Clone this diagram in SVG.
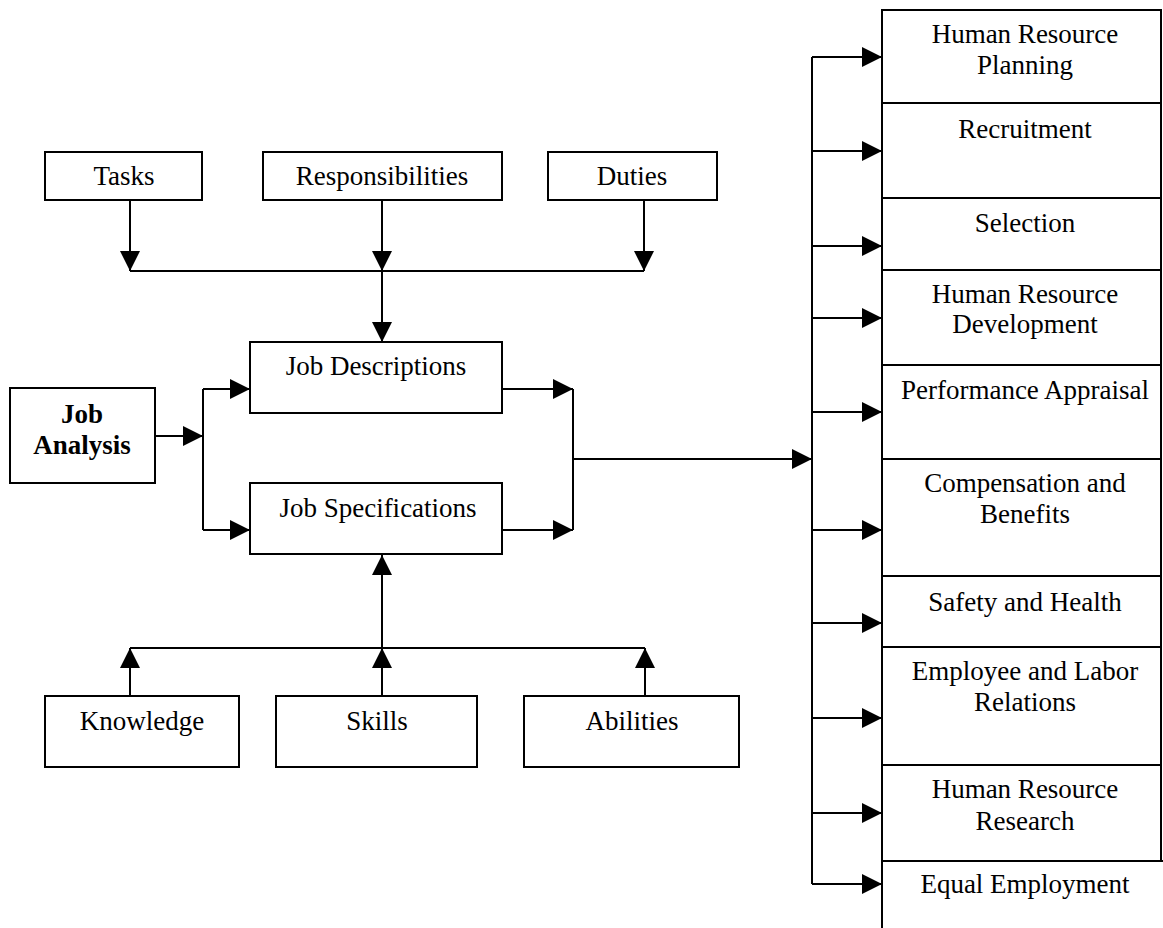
<svg xmlns="http://www.w3.org/2000/svg" width="1163" height="928" viewBox="0 0 1163 928">
<style>
.box{fill:#fff;stroke:#000;stroke-width:2}
.t{font-family:"Liberation Serif","Times New Roman",serif;font-size:27px;fill:#000;text-anchor:middle}
.b{font-weight:bold}
.c{fill:none;stroke:#000;stroke-width:2}
.a{fill:none;stroke:#000;stroke-width:2;marker-end:url(#ah)}
</style>
<defs>
<marker id="ah" markerUnits="userSpaceOnUse" markerWidth="20" markerHeight="20" refX="20" refY="10" orient="auto">
<path d="M0,0 L20,10 L0,20 z" fill="#000"/>
</marker>
</defs>
<rect width="1163" height="928" fill="#fff"/>

<g id="connectors">
<path class="a" d="M130,200 V271"/>
<path class="a" d="M382,200 V271"/>
<path class="a" d="M644,200 V271"/>
<path class="c" d="M130,271 H644"/>
<path class="a" d="M382,271 V342"/>
<path class="a" d="M155,436 H203"/>
<path class="c" d="M203,389 V530"/>
<path class="a" d="M203,389 H250"/>
<path class="a" d="M203,530 H250"/>
<path class="a" d="M502,389 H573"/>
<path class="a" d="M502,530 H573"/>
<path class="c" d="M573,389 V530"/>
<path class="a" d="M573,459 H812"/>
<path class="c" d="M812,57 V884"/>
<path class="a" d="M812,57 H882"/>
<path class="a" d="M812,151 H882"/>
<path class="a" d="M812,246 H882"/>
<path class="a" d="M812,318 H882"/>
<path class="a" d="M812,412 H882"/>
<path class="a" d="M812,530 H882"/>
<path class="a" d="M812,623 H882"/>
<path class="a" d="M812,718 H882"/>
<path class="a" d="M812,813 H882"/>
<path class="a" d="M812,884 H882"/>
<path class="a" d="M130,696 V648"/>
<path class="a" d="M382,696 V648"/>
<path class="a" d="M645,696 V648"/>
<path class="c" d="M130,648 H645"/>
<path class="a" d="M382,648 V555"/>
</g>

<g id="tasks"><rect class="box" x="45" y="152" width="157" height="48"/><text class="t" x="124" y="185">Tasks</text></g>
<g id="responsibilities"><rect class="box" x="263" y="152" width="239" height="48"/><text class="t" x="382" y="185">Responsibilities</text></g>
<g id="duties"><rect class="box" x="548" y="152" width="169" height="48"/><text class="t" x="632" y="185">Duties</text></g>
<g id="job-analysis"><rect class="box" x="10" y="388" width="145" height="95"/><text class="t b" x="82" y="423">Job</text><text class="t b" x="82" y="454">Analysis</text></g>
<g id="job-descriptions"><rect class="box" x="250" y="342" width="252" height="71"/><text class="t" x="376" y="375">Job Descriptions</text></g>
<g id="job-specifications"><rect class="box" x="250" y="483" width="252" height="71"/><text class="t" x="378" y="517">Job Specifications</text></g>
<g id="knowledge"><rect class="box" x="45" y="696" width="194" height="71"/><text class="t" x="142" y="730">Knowledge</text></g>
<g id="skills"><rect class="box" x="276" y="696" width="201" height="71"/><text class="t" x="377" y="730">Skills</text></g>
<g id="abilities"><rect class="box" x="524" y="696" width="215" height="71"/><text class="t" x="632" y="730">Abilities</text></g>

<g id="hr-planning"><rect class="box" x="882" y="10" width="279" height="93"/><text class="t" x="1025" y="43">Human Resource</text><text class="t" x="1025" y="74">Planning</text></g>
<g id="recruitment"><rect class="box" x="882" y="103" width="279" height="95"/><text class="t" x="1025" y="138">Recruitment</text></g>
<g id="selection"><rect class="box" x="882" y="198" width="279" height="72"/><text class="t" x="1025" y="232">Selection</text></g>
<g id="hr-development"><rect class="box" x="882" y="270" width="279" height="95"/><text class="t" x="1025" y="303">Human Resource</text><text class="t" x="1025" y="333">Development</text></g>
<g id="performance-appraisal"><rect class="box" x="882" y="365" width="279" height="94"/><text class="t" x="1025" y="399">Performance Appraisal</text></g>
<g id="compensation"><rect class="box" x="882" y="459" width="279" height="117"/><text class="t" x="1025" y="492">Compensation and</text><text class="t" x="1025" y="523">Benefits</text></g>
<g id="safety"><rect class="box" x="882" y="576" width="279" height="71"/><text class="t" x="1025" y="611">Safety and Health</text></g>
<g id="employee-relations"><rect class="box" x="882" y="647" width="279" height="118"/><text class="t" x="1025" y="680">Employee and Labor</text><text class="t" x="1025" y="711">Relations</text></g>
<g id="hr-research"><rect class="box" x="882" y="765" width="279" height="96"/><text class="t" x="1025" y="798">Human Resource</text><text class="t" x="1025" y="830">Research</text></g>
<g id="equal-employment"><path class="c" d="M882,930 V861 H1163"/><text class="t" x="1025" y="893">Equal Employment</text></g>
</svg>
